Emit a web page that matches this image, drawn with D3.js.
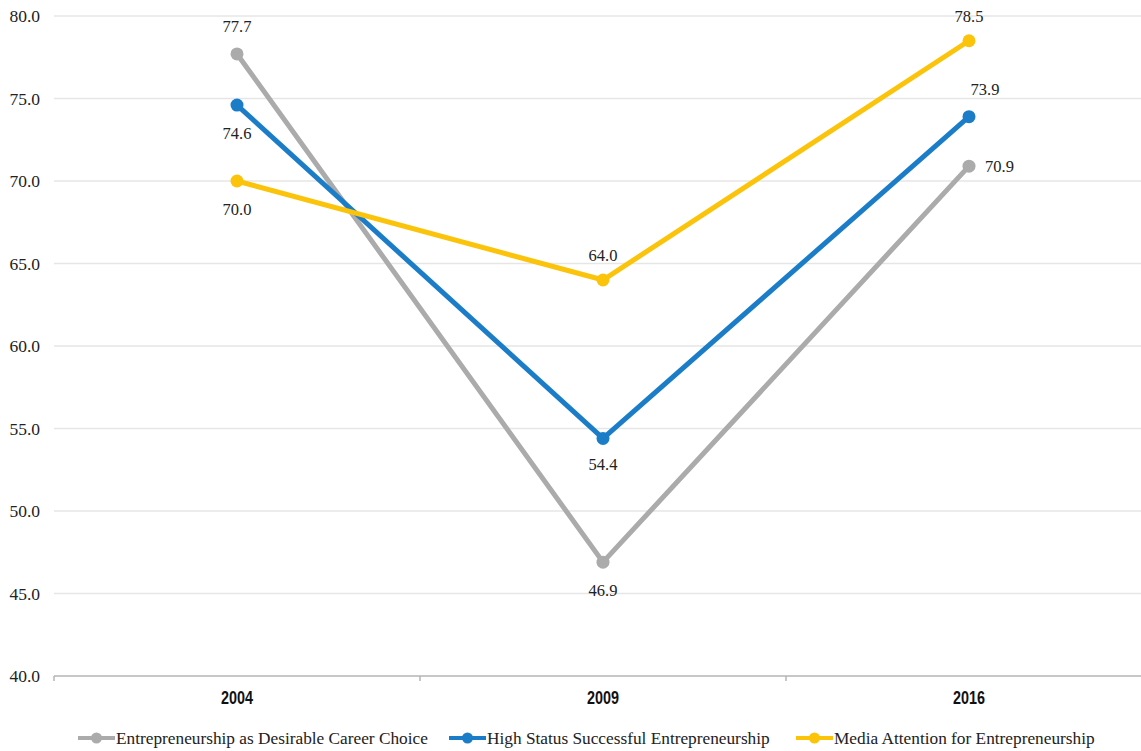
<html>
<head>
<meta charset="utf-8">
<script src="https://d3js.org/d3.v7.min.js"></script>
<style>
    body { margin: 0; background: #fff; }
    text { font-family: "Liberation Serif", "DejaVu Serif", serif; fill: #222; }
    .year { font-family: "Liberation Sans", "DejaVu Sans", sans-serif; font-weight: bold; font-size: 18px; fill: #111; }
</style>
</head>
<body>
<svg id="chart"></svg>
<script>
    // data
    var years = ["2004", "2009", "2016"];
    var seriesNames = ["Entrepreneurship as Desirable Career Choice", "High Status Successful Entrepreneurship", "Media Attention for Entrepreneurship"];
    var desirableCareer = [77.7, 46.9, 70.9];
    var highStatus = [74.6, 54.4, 73.9];
    var mediaAttention = [70.0, 64.0, 78.5];
    var yTicks = [40, 45, 50, 55, 60, 65, 70, 75, 80];

    var colors = ["#ababab", "#1b7dc8", "#fcc30b"];
    // label placement per point: [dx, dy, anchor]
    var labelPos = [
        [[0, -22, "middle"], [0, 34, "middle"], [16, 6, "start"]],
        [[0, 34, "middle"], [0, 32, "middle"], [16, -22, "middle"]],
        [[0, 34, "middle"], [0, -19, "middle"], [0, -19, "middle"]]
    ];

    var series = [desirableCareer, highStatus, mediaAttention].map(function (vals, i) {
        return { name: seriesNames[i], color: colors[i], values: vals };
    });

    var width = 1141, height = 751;
    var svg = d3.select("#chart").attr("width", width).attr("height", height);

    var x = d3.scaleBand().domain(years).range([54, 1152]);
    var y = d3.scaleLinear().domain([40, 80]).range([676, 16]);

    // gridlines
    svg.append("g")
        .selectAll("line")
        .data(yTicks.filter(function (d) { return d > 40; }))
        .enter()
        .append("line")
        .attr("x1", 54).attr("x2", width)
        .attr("y1", function (d) { return y(d); })
        .attr("y2", function (d) { return y(d); })
        .attr("stroke", "#e6e6e6")
        .attr("stroke-width", 1.5);

    // y labels
    svg.append("g")
        .selectAll("text")
        .data(yTicks)
        .enter()
        .append("text")
        .attr("x", 40)
        .attr("y", function (d) { return y(d) + 6; })
        .attr("text-anchor", "end")
        .style("font-size", "17.5px")
        .text(function (d) { return d.toFixed(1); });

    // x axis
    var xAxis = svg.append("g")
        .attr("transform", "translate(0," + y(40) + ")");
    xAxis.append("line")
        .attr("x1", 54).attr("x2", width)
        .attr("stroke", "#b5b5b5").attr("stroke-width", 1.5);
    xAxis.selectAll(".tick")
        .data(years)
        .enter()
        .append("line")
        .attr("x1", function (d) { return x(d); })
        .attr("x2", function (d) { return x(d); })
        .attr("y1", 0).attr("y2", 5)
        .attr("stroke", "#b5b5b5").attr("stroke-width", 1.5);
    xAxis.selectAll("text")
        .data(years)
        .enter()
        .append("text")
        .attr("class", "year")
        .attr("transform", function (d) {
            return "translate(" + (x(d) + x.bandwidth() / 2) + ",28) scale(0.8,1)";
        })
        .attr("text-anchor", "middle")
        .text(function (d) { return d; });

    var cx = function (d, i) { return x(years[i]) + x.bandwidth() / 2; };

    var line = d3.line()
        .x(cx)
        .y(function (d) { return y(d); });

    // lines and dots
    series.forEach(function (s, si) {
        var g = svg.append("g");
        g.append("path")
            .datum(s.values)
            .attr("fill", "none")
            .attr("stroke", s.color)
            .attr("stroke-width", 5)
            .attr("d", line);
        g.selectAll("circle")
            .data(s.values)
            .enter()
            .append("circle")
            .attr("cx", cx)
            .attr("cy", function (d) { return y(d); })
            .attr("r", 6.5)
            .attr("fill", s.color);
    });

    // value labels
    series.forEach(function (s, si) {
        svg.append("g")
            .selectAll("text")
            .data(s.values)
            .enter()
            .append("text")
            .attr("x", function (d, i) { return cx(d, i) + labelPos[si][i][0]; })
            .attr("y", function (d, i) { return y(d) + labelPos[si][i][1]; })
            .attr("text-anchor", function (d, i) { return labelPos[si][i][2]; })
            .style("font-size", "16.5px")
            .text(function (d) { return d.toFixed(1); });
    });

    // legend: text start x for each item
    var legendTextX = [116, 487, 834];
    var legend = svg.append("g").attr("transform", "translate(0,738)");
    series.forEach(function (s, i) {
        var item = legend.append("g").attr("transform", "translate(" + legendTextX[i] + ",0)");
        item.append("line")
            .attr("x1", -38).attr("x2", -1)
            .attr("stroke", s.color).attr("stroke-width", 4);
        item.append("circle")
            .attr("cx", -19.5).attr("r", 5.5)
            .attr("fill", s.color);
        item.append("text")
            .attr("x", 0)
            .attr("y", 6)
            .style("font-size", "17.3px")
            .text(s.name);
    });
</script>
</body>
</html>
